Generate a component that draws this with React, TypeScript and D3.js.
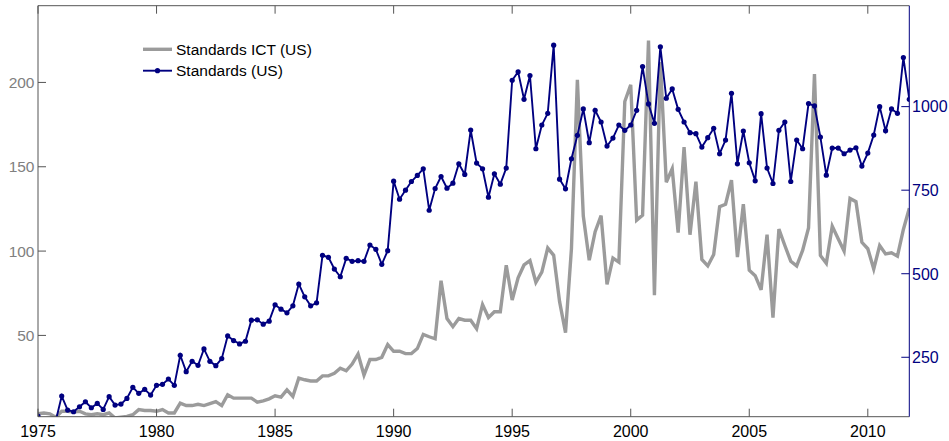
import React from 'react';
import * as d3 from 'd3';

// Quarterly series starting in 1975 Q1
const START_YEAR = 1975;
const QUARTERS_PER_YEAR = 4;

// Standards ICT (US) – left axis
const ictUS = [
  3.5, 4, 3.5, 1.5, 5, 5, 4.5, 5, 3.5, 3, 3.5, 3, 4, 1, 1.5, 2, 3, 6, 5.5, 5.5,
  5, 6, 4, 4, 9.8, 8.4, 8.4, 9.2, 8.4, 9.6, 10.8, 8.4, 14.8, 12.8, 12.8, 12.8, 12.8, 10.4, 11.2, 12.4,
  14.2, 13.4, 17.7, 13.8, 24.7, 23.7, 23, 23, 26, 26, 27.5, 30.5, 29, 33, 39, 26.5, 35.7, 35.7, 37, 44.6,
  40.6, 40.6, 39.2, 39.2, 42.2, 50.6, 49.2, 48, 82.4, 60, 55.2, 60, 59, 59, 54, 68.3, 60.6, 64, 64, 91.6,
  71, 84.2, 91.8, 94.4, 81.5, 87.5, 101.8, 97.5, 70, 51.6, 101.5, 201.5, 120.8, 94.6, 111.5, 121, 80.3, 95.8, 93.4, 188.7,
  198.6, 118.3, 121.3, 224.8, 73.8, 212, 140.8, 148.8, 110.9, 161.7, 109.7, 141.2, 95, 91.2, 98, 126.3, 127.8, 142, 96.4, 127.8,
  88.7, 85.4, 77, 109.7, 60.6, 113, 103.3, 94, 91.2, 100.4, 113.7, 204.9, 97.4, 92.8, 114.7, 107.3, 100, 131.2, 129.3, 105.2,
  101.4, 89.4, 103.3, 98.3, 99, 97, 112.8, 125.5,
];

// Standards (US) – right axis
const standardsUS = [
  74, 58, 52, 60, 134, 92, 87, 102, 117, 99, 112, 94, 132, 107, 110, 127, 160, 142, 154, 137,
  166, 169, 185, 166, 256, 207, 238, 226, 275, 238, 225, 246, 314, 300, 290, 298, 361, 362, 349, 358,
  407, 394, 383, 404, 469, 431, 404, 413, 555, 549, 514, 491, 546, 537, 539, 537, 586, 573, 528, 569,
  777, 723, 750, 776, 794, 814, 690, 755, 791, 756, 771, 829, 797, 930, 831, 814, 729, 799, 768, 816,
  1079, 1104, 1022, 1093, 874, 945, 980, 1184, 783, 754, 844, 914, 993, 892, 989, 954, 882, 906, 945, 929,
  945, 989, 1120, 1008, 950, 1179, 1025, 1053, 992, 954, 922, 919, 879, 907, 935, 859, 900, 1040, 829, 927,
  832, 778, 979, 816, 770, 929, 954, 776, 900, 874, 1009, 1002, 909, 795, 876, 876, 859, 870, 877, 822,
  861, 915, 1000, 928, 993, 980, 1147, 1022,
];

const xTicks = [1975, 1980, 1985, 1990, 1995, 2000, 2005, 2010];
const leftTicks = [50, 100, 150, 200];
const rightTicks = [250, 500, 750, 1000];
const legendLabels = ['Standards ICT (US)', 'Standards (US)'];

const GRAY = '#9b9b9b';
const NAVY = '#000080';
const AXIS = '#555555';
const FONT = "'Liberation Sans', Arial, Helvetica, sans-serif";

export default function App() {
  const W = 949;
  const H = 441;
  const left = 38;
  const right = 909.3;
  const top = 5.7;
  const bottom = 416.7;
  const tick = 8;

  const dateOf = (i: number) => START_YEAR + i / QUARTERS_PER_YEAR;
  const lastDate = dateOf(standardsUS.length - 1);

  const x = d3.scaleLinear().domain([START_YEAR, lastDate]).range([left, right]);
  const yL = d3.scaleLinear().domain([1.8, 245.5]).range([bottom, top]);
  const yR = d3.scaleLinear().domain([72.2, 1302]).range([bottom, top]);

  const grayLine = d3
    .line<number>()
    .x((_, i) => x(dateOf(i)))
    .y((d) => yL(d))(ictUS) as string;
  const blueLine = d3
    .line<number>()
    .x((_, i) => x(dateOf(i)))
    .y((d) => yR(d))(standardsUS) as string;

  return (
    <svg
      width={W}
      height={H}
      style={{ position: 'absolute', left: 0, top: 0, background: '#fff' }}
      fontFamily={FONT}
    >
      <defs>
        <clipPath id="plotClip">
          <rect x={left} y={top} width={right - left} height={bottom - top} />
        </clipPath>
      </defs>
      <rect x={0} y={0} width={W} height={H} fill="#fff" />

      {/* data */}
      <g clipPath="url(#plotClip)">
        <path d={grayLine} fill="none" stroke={GRAY} strokeWidth={3.4} strokeLinejoin="miter" />
        <path d={blueLine} fill="none" stroke={NAVY} strokeWidth={1.9} />
        {standardsUS.map((v, i) => (
          <circle key={i} cx={x(dateOf(i))} cy={yR(v)} r={2.6} fill={NAVY} />
        ))}
      </g>

      {/* frame */}
      <line x1={left} x2={right} y1={top} y2={top} stroke={AXIS} strokeWidth={1} />
      <line x1={left} x2={right} y1={bottom} y2={bottom} stroke={AXIS} strokeWidth={1} />
      <line x1={left} x2={left} y1={top} y2={bottom} stroke={AXIS} strokeWidth={1} />
      <line x1={right} x2={right} y1={top} y2={bottom} stroke={NAVY} strokeWidth={1} />

      {/* x ticks */}
      {xTicks.map((t) => (
        <g key={t}>
          <line x1={x(t)} x2={x(t)} y1={bottom} y2={bottom - tick} stroke={AXIS} />
          <line x1={x(t)} x2={x(t)} y1={top} y2={top + tick} stroke={AXIS} />
          <text x={x(t)} y={437.3} textAnchor="middle" fontSize={16} fill="#000">
            {t}
          </text>
        </g>
      ))}

      {/* left ticks */}
      {leftTicks.map((t) => (
        <g key={t}>
          <line x1={left} x2={left + tick} y1={yL(t)} y2={yL(t)} stroke={AXIS} />
          <text x={34.5} y={yL(t) + 5.6} textAnchor="end" fontSize={15.5} fill="#808080">
            {t}
          </text>
        </g>
      ))}

      {/* right ticks */}
      {rightTicks.map((t) => (
        <g key={t}>
          <line x1={right} x2={right - tick} y1={yR(t)} y2={yR(t)} stroke={NAVY} />
          <text x={912} y={yR(t) + 5.8} textAnchor="start" fontSize={16} fill={NAVY}>
            {t}
          </text>
        </g>
      ))}

      {/* legend */}
      <g>
        <line x1={143} x2={172} y1={49.3} y2={49.3} stroke={GRAY} strokeWidth={3.4} />
        <text x={176} y={54.8} fontSize={15.5} fill="#000">
          {legendLabels[0]}
        </text>
        <line x1={143} x2={172} y1={70.7} y2={70.7} stroke={NAVY} strokeWidth={1.9} />
        <circle cx={157.5} cy={70.7} r={2.6} fill={NAVY} />
        <text x={176} y={76.2} fontSize={15.5} fill="#000">
          {legendLabels[1]}
        </text>
      </g>
    </svg>
  );
}
